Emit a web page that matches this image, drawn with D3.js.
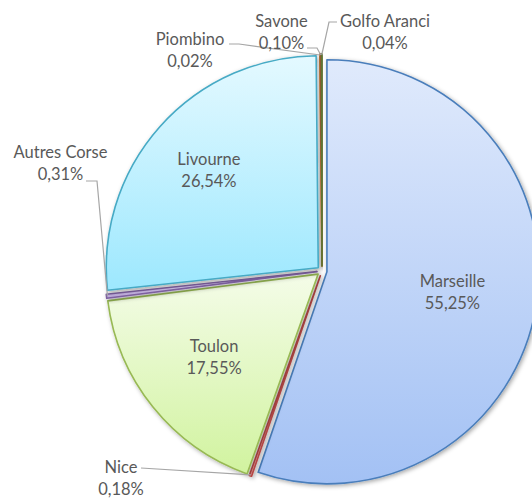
<!DOCTYPE html>
<html><head><meta charset="utf-8">
<script src="https://cdn.jsdelivr.net/npm/d3@7"></script>
<style>body{margin:0;background:#fff}svg{display:block}</style>
</head><body><svg id="c" width="532" height="499"></svg>
<script>
// ---- data ----
const categories = ["Marseille","Nice","Toulon","Autres Corse","Livourne","Piombino","Savone","Golfo Aranci"];
const values = [55.25, 0.18, 17.55, 0.31, 26.54, 0.02, 0.10, 0.04];
const valueLabels = ["55,25%","0,18%","17,55%","0,31%","26,54%","0,02%","0,10%","0,04%"];

// ---- styles ----
const strokeColors = ["#4a7ebb","#be4b48","#98b954","#7d60a0","#46aac5","#f69240","#8a5a2e","#5f7530"];
const fillTop      = ["#e0eafc","#f6d0cf","#f4fce8","#e2d9ef","#e4f9ff","#fde0c6","#e8d2be","#dfe8cc"];
const fillBottom   = ["#a3c1f4","#e99896","#d1f39f","#b9a6d8","#9de8fe","#f9b77e","#c49a72","#a8bd7c"];

// ---- layout ----
const W = 532, H = 499;
const cx = 322, cy = 271, R = 212, explode = 5;
// inside labels: fraction of radius along bisector
const insideLabelRadius = {"Marseille": 0.60, "Toulon": 0.63, "Livourne": 0.69};
// outside labels: text centre x, first baseline, leader start points
const outsideLabels = {
  "Nice":         {x: 121,   y: 473, lead: [[141,468]]},
  "Autres Corse": {x: 60.5,  y: 158, lead: [[86,181],[97,181]]},
  "Piombino":     {x: 190,   y: 45,  lead: [[229,44],[239,44]]},
  "Savone":       {x: 281.5, y: 27,  lead: [[307,48],[317,48]]},
  "Golfo Aranci": {x: 385,   y: 27,  lead: [[337,22],[329,22]]}
};
const lineGap = 22;

const svg = d3.select("#c");
svg.append("rect").attr("width", W).attr("height", H).attr("fill", "#fff");

const defs = svg.append("defs");
const f = defs.append("filter").attr("id","sh").attr("x","-10%").attr("y","-10%").attr("width","130%").attr("height","130%");
f.append("feDropShadow").attr("dx",1.5).attr("dy",1.5).attr("stdDeviation",2)
  .attr("flood-color","#000").attr("flood-opacity",0.35);

categories.forEach((c,i) => {
  const g = defs.append("linearGradient").attr("id","g"+i)
    .attr("x1",0).attr("y1",0).attr("x2",0).attr("y2",1);
  g.append("stop").attr("offset","0%").attr("stop-color",fillTop[i]);
  g.append("stop").attr("offset","100%").attr("stop-color",fillBottom[i]);
});

const data = categories.map((c,i) => ({name:c, value:values[i], label:valueLabels[i], i}));
const pie = d3.pie().sort(null).value(d => d.value).startAngle(0).endAngle(2*Math.PI);
const arcs = pie(data);
const arc = d3.arc().innerRadius(0).outerRadius(R);

function off(a) {
  const m = (a.startAngle + a.endAngle) / 2;
  return [cx + explode*Math.sin(m), cy - explode*Math.cos(m)];
}

const slices = svg.append("g");
arcs.forEach(a => {
  const [ox, oy] = off(a);
  slices.append("path")
    .attr("transform", `translate(${ox},${oy})`)
    .attr("d", arc(a))
    .attr("fill", `url(#g${a.data.i})`)
    .attr("stroke", strokeColors[a.data.i])
    .attr("stroke-width", 1.6)
    .attr("stroke-linejoin","round")
    .attr("filter","url(#sh)");
});

const font = "Lato, 'Open Sans', sans-serif";
const txt = svg.append("g").attr("font-family", font).attr("font-size", "16.5px")
  .attr("fill", "#595959").attr("text-anchor", "middle");

arcs.forEach(a => {
  const name = a.data.name;
  const [ox, oy] = off(a);
  const m = (a.startAngle + a.endAngle) / 2;
  if (insideLabelRadius[name] !== undefined) {
    const rr = insideLabelRadius[name] * R;
    const x = ox + rr*Math.sin(m), y = oy - rr*Math.cos(m);
    txt.append("text").attr("x", x).attr("y", y - 5.5).text(name);
    txt.append("text").attr("x", x).attr("y", y - 5.5 + lineGap).text(a.data.label);
  } else if (outsideLabels[name]) {
    const L = outsideLabels[name];
    const end = [ox + (R-1)*Math.sin(m), oy - (R-1)*Math.cos(m)];
    const pts = L.lead.concat([end]);
    svg.append("path").attr("d", d3.line()(pts))
      .attr("fill","none").attr("stroke","#a6a6a6").attr("stroke-width",1.2);
    txt.append("text").attr("x", L.x).attr("y", L.y).text(name);
    txt.append("text").attr("x", L.x).attr("y", L.y + lineGap).text(a.data.label);
  }
});
svg.node().appendChild(txt.node());
</script></body></html>
